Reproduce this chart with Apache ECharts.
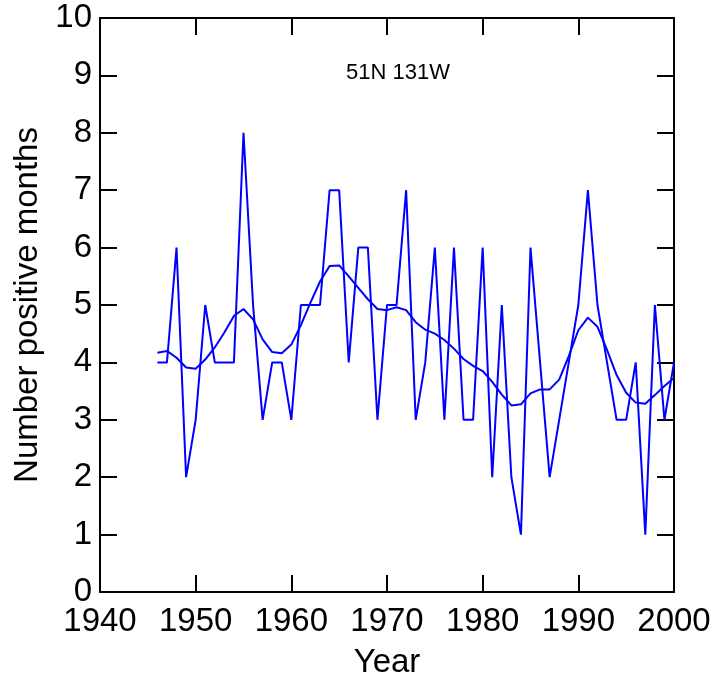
<!DOCTYPE html>
<html>
<head>
<meta charset="utf-8">
<script src="https://cdn.jsdelivr.net/npm/echarts@6/dist/echarts.min.js"></script>
<style>
html,body{margin:0;padding:0;background:#fff;}
#chart{width:717px;height:681px;}
</style>
</head>
<body>
<div id="chart"></div>
<script>
var years = [1946,1947,1948,1949,1950,1951,1952,1953,1954,1955,1956,1957,1958,1959,1960,1961,1962,1963,1964,1965,1966,1967,1968,1969,1970,1971,1972,1973,1974,1975,1976,1977,1978,1979,1980,1981,1982,1983,1984,1985,1986,1987,1988,1989,1990,1991,1992,1993,1994,1995,1996,1997,1998,1999,2000];
var positiveMonths = [4,4,6,2,3,5,4,4,4,8,5,3,4,4,3,5,5,5,7,7,4,6,6,3,5,5,7,3,4,6,3,6,3,3,6,2,5,2,1,6,4,2,3,4,5,7,5,4,3,3,4,1,5,3,4];
var smoothed = [4.17,4.20,4.08,3.91,3.89,4.05,4.26,4.52,4.81,4.93,4.75,4.40,4.18,4.16,4.31,4.65,5.04,5.41,5.68,5.69,5.50,5.30,5.10,4.93,4.91,4.96,4.91,4.70,4.57,4.50,4.39,4.24,4.06,3.94,3.85,3.66,3.44,3.25,3.27,3.46,3.53,3.53,3.70,4.11,4.56,4.78,4.62,4.22,3.78,3.47,3.30,3.28,3.43,3.59,3.73];
var titleText = '51N 131W';
var xName = 'Year';
var yName = 'Number positive months';

function pairs(xs, ys){ return xs.map(function(x,i){ return [x, ys[i]]; }); }

var font = 'Liberation Sans, Arial, Helvetica, sans-serif';
var axisLine = {show:true, onZero:false, lineStyle:{color:'#000', width:2}};
var tick = {show:true, inside:true, length:17, lineStyle:{color:'#000', width:2}};

var chart = echarts.init(document.getElementById('chart'), null, {renderer:'canvas'});
chart.setOption({
  animation:false,
  backgroundColor:'#fff',
  title:{text:titleText, left:393, top:57, textAlign:'center',
    textStyle:{fontFamily:font, fontSize:22, fontWeight:'normal', color:'#000'}},
  grid:{left:100, right:43, top:18, bottom:89, containLabel:false, outerBoundsMode:'none'},
  xAxis:[
    {type:'value', position:'bottom', min:1940, max:2000, interval:10,
     axisLine:axisLine, axisTick:tick, splitLine:{show:false},
     axisLabel:{show:true, margin:13, showMinLabel:true, showMaxLabel:true,
       formatter:function(v){ return String(v); },
       fontFamily:font, fontSize:33, color:'#000'},
     name:xName, nameLocation:'middle', nameGap:54,
     nameTextStyle:{fontFamily:font, fontSize:33, color:'#000'}},
    {type:'value', position:'top', min:1940, max:2000, interval:10,
     axisLine:axisLine, axisTick:tick, splitLine:{show:false}, axisLabel:{show:false}}
  ],
  yAxis:[
    {type:'value', position:'left', min:0, max:10, interval:1,
     axisLine:axisLine, axisTick:tick, splitLine:{show:false},
     axisLabel:{show:true, margin:8, fontFamily:font, fontSize:33, color:'#000'},
     name:yName, nameLocation:'middle', nameGap:54, nameRotate:90,
     nameTextStyle:{fontFamily:font, fontSize:33, color:'#000'}},
    {type:'value', position:'right', min:0, max:10, interval:1,
     axisLine:axisLine, axisTick:tick, splitLine:{show:false}, axisLabel:{show:false}}
  ],
  series:[
    {type:'line', data:pairs(years, positiveMonths), showSymbol:false, symbol:'none',
     lineStyle:{color:'#0000ff', width:2}, xAxisIndex:0, yAxisIndex:0, silent:true},
    {type:'line', data:pairs(years, smoothed), showSymbol:false, symbol:'none',
     lineStyle:{color:'#0000ff', width:2}, xAxisIndex:0, yAxisIndex:0, silent:true}
  ]
});
</script>
</body>
</html>
